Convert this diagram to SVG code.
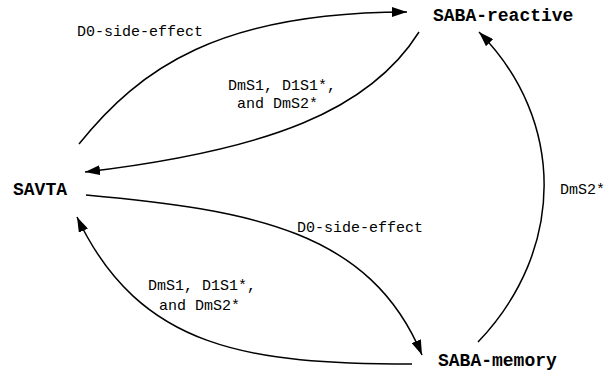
<svg xmlns="http://www.w3.org/2000/svg" width="607" height="371" viewBox="0 0 607 371">
<style>
.node{font-family:"Liberation Mono","Courier New",monospace;font-weight:bold;font-size:18px;fill:#000}
.lbl{font-family:"Liberation Mono","Courier New",monospace;font-size:15px;fill:#000}
.edge{fill:none;stroke:#000;stroke-width:1.5}
</style>
<defs>
<marker id="arr" markerUnits="userSpaceOnUse" markerWidth="16" markerHeight="10" refX="15" refY="5" orient="auto">
<path d="M0,0 L15,5 L0,10 Z" fill="#000"/>
</marker>
</defs>
<rect width="607" height="371" fill="#fff"/>
<g id="connectors">
<path class="edge" d="M79,144 C140,68 220,12 407,12" marker-end="url(#arr)"/>
<path class="edge" d="M419,32 C370,110 270,150 85,172" marker-end="url(#arr)"/>
<path class="edge" d="M86,195 C250,210 370,230 422,355" marker-end="url(#arr)"/>
<path class="edge" d="M412,364 C250,364 140,350 77,217" marker-end="url(#arr)"/>
<path class="edge" d="M478,342 C566,250 566,120 479,32" marker-end="url(#arr)"/>
</g>
<g id="labels">
<text class="lbl" x="77" y="36">D0-side-effect</text>
<text class="lbl" x="228" y="90">DmS1, D1S1*,</text>
<text class="lbl" x="237" y="108">and DmS2*</text>
<text class="lbl" x="297" y="232">D0-side-effect</text>
<text class="lbl" x="148" y="290">DmS1, D1S1*,</text>
<text class="lbl" x="159" y="310">and DmS2*</text>
<text class="lbl" x="560" y="194">DmS2*</text>
</g>
<g id="SAVTA"><text class="node" x="13" y="195">SAVTA</text></g>
<g id="SABA-reactive"><text class="node" x="433" y="21">SABA-reactive</text></g>
<g id="SABA-memory"><text class="node" x="438" y="366">SABA-memory</text></g>
</svg>
